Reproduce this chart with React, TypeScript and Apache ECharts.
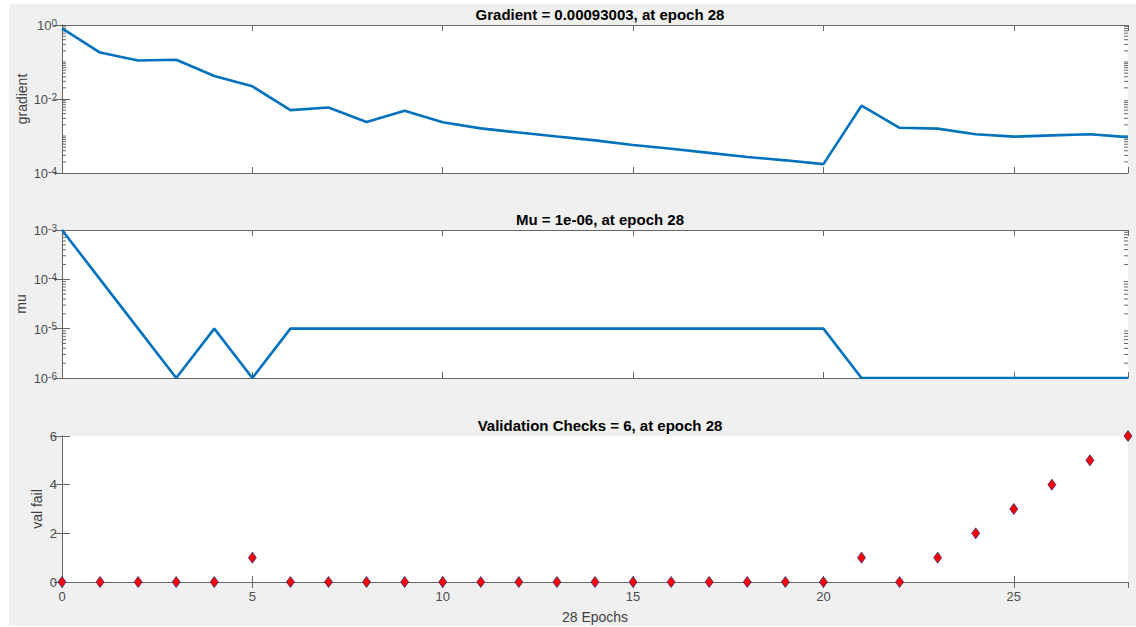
import React, { useEffect, useRef } from "react";
import * as echarts from "echarts";

// Training record, one entry per epoch
const epochs = [
  0, 1, 2, 3, 4, 5, 6, 7, 8, 9, 10, 11, 12, 13, 14, 15, 16, 17, 18, 19, 20,
  21, 22, 23, 24, 25, 26, 27, 28,
];

const gradient = [
  0.81, 0.18, 0.11, 0.115, 0.042, 0.022, 0.005, 0.0059, 0.0024, 0.0048,
  0.00234, 0.00161, 0.00124, 0.00097, 0.00076, 0.00057, 0.00045, 0.00035,
  0.00027, 0.00022, 0.000174, 0.0066, 0.00167, 0.00158, 0.00112, 0.00096,
  0.00104, 0.00112, 0.00093003,
];

const mu = [
  1e-3, 1e-4, 1e-5, 1e-6, 1e-5, 1e-6, 1e-5, 1e-5, 1e-5, 1e-5, 1e-5, 1e-5,
  1e-5, 1e-5, 1e-5, 1e-5, 1e-5, 1e-5, 1e-5, 1e-5, 1e-5, 1e-6, 1e-6, 1e-6,
  1e-6, 1e-6, 1e-6, 1e-6, 1e-6,
];

const valFail = [
  0, 0, 0, 0, 0, 1, 0, 0, 0, 0, 0, 0, 0, 0, 0, 0, 0, 0, 0, 0, 0, 1, 0, 1, 2,
  3, 4, 5, 6,
];

const titles = [
  "Gradient = 0.00093003, at epoch 28",
  "Mu = 1e-06, at epoch 28",
  "Validation Checks = 6, at epoch 28",
];
const yNames = ["gradient", "mu", "val fail"];
const xName = "28 Epochs";

// log-axis minor tick multipliers within each decade
const minorSteps = [1, 2, 3, 4, 5, 6, 7, 8, 9];

const FONT = "'Liberation Sans', Arial, Helvetica, sans-serif";
const AXIS = "#666666";
const LABEL = "#4d4d4d";
const BLUE = "#0072BD";

const GRID_LEFT = 62;
const GRID_RIGHT = 8;
const panels = [
  { top: 25, height: 148 },
  { top: 230, height: 148 },
  { top: 436, height: 146 },
];

function minorTickValues(minExp: number, maxExp: number, majorEvery: number) {
  const out: number[][] = [];
  for (let e = minExp; e < maxExp; e++) {
    for (const k of minorSteps) {
      if (k === 1 && (e - minExp) % majorEvery === 0) continue;
      out.push([0, k * Math.pow(10, e)]);
    }
  }
  return out;
}

const powLabel = (v: number) => {
  const e = Math.round(Math.log10(v));
  return `{b|10}{e|${e}}`;
};

const powRich = {
  b: { fontSize: 13, color: LABEL, fontFamily: FONT, lineHeight: 14, verticalAlign: "bottom" },
  e: {
    fontSize: 10,
    color: LABEL,
    fontFamily: FONT,
    lineHeight: 10,
    verticalAlign: "top",
    padding: [0, 0, 10, 0],
  },
};

function buildOption() {
  const xAxis: any[] = [];
  const yAxis: any[] = [];
  panels.forEach((_, i) => {
    const last = i === panels.length - 1;
    xAxis.push({
      type: "value",
      gridIndex: i,
      position: "bottom",
      min: 0,
      max: 28,
      interval: 5,
      splitLine: { show: false },
      axisLine: { show: true, lineStyle: { color: AXIS, width: 1 } },
      axisTick: { show: true, inside: true, length: 6, lineStyle: { color: AXIS } },
      axisLabel: {
        show: last,
        color: LABEL,
        fontSize: 13,
        fontFamily: FONT,
        margin: 8,
        showMaxLabel: false,
        formatter: (v: number) => (v % 5 === 0 ? String(v) : ""),
      },
      name: last ? xName : "",
      nameLocation: "middle",
      nameGap: 28,
      nameMoveOverlap: false,
      nameTextStyle: { color: "#404040", fontSize: 14, fontFamily: FONT },
    });
    xAxis.push({
      type: "value",
      gridIndex: i,
      position: "top",
      min: 0,
      max: 28,
      interval: 5,
      splitLine: { show: false },
      axisLine: { show: true, lineStyle: { color: AXIS, width: 1 } },
      axisTick: { show: true, inside: true, length: 6, lineStyle: { color: AXIS } },
      axisLabel: { show: false },
    });
  });

  const yDefs = [
    { type: "log", min: 1e-4, max: 1, interval: 2, nameGap: 33 },
    { type: "log", min: 1e-6, max: 1e-3, interval: 1, nameGap: 34 },
    { type: "value", min: 0, max: 6, interval: 2, nameGap: 18 },
  ];
  yDefs.forEach((d, i) => {
    const isLog = d.type === "log";
    yAxis.push({
      type: d.type,
      logBase: 10,
      gridIndex: i,
      position: "left",
      min: d.min,
      max: d.max,
      interval: d.interval,
      splitLine: { show: false },
      axisLine: { show: true, lineStyle: { color: AXIS, width: 1 } },
      axisTick: { show: true, inside: true, length: 8, lineStyle: { color: AXIS } },
      axisLabel: isLog
        ? { formatter: powLabel, rich: powRich, margin: 5 }
        : { color: LABEL, fontSize: 13, fontFamily: FONT, margin: 5 },
      name: yNames[i],
      nameLocation: "middle",
      nameGap: d.nameGap,
      nameMoveOverlap: false,
      nameTextStyle: { color: "#404040", fontSize: 14, fontFamily: FONT },
    });
    yAxis.push({
      type: d.type,
      logBase: 10,
      gridIndex: i,
      position: "right",
      min: d.min,
      max: d.max,
      interval: d.interval,
      splitLine: { show: false },
      axisLine: { show: true, lineStyle: { color: AXIS, width: 1 } },
      axisTick: { show: true, inside: true, length: 8, lineStyle: { color: AXIS } },
      axisLabel: { show: false },
    });
  });

  const minorRender = (params: any, api: any) => {
    const v = api.value(1);
    const y = api.coord([0, v])[1];
    const cs = params.coordSys;
    const style = { stroke: AXIS, lineWidth: 1 };
    return {
      type: "group",
      children: [
        { type: "line", shape: { x1: cs.x, y1: y, x2: cs.x + 4, y2: y }, style },
        {
          type: "line",
          shape: { x1: cs.x + cs.width, y1: y, x2: cs.x + cs.width - 4, y2: y },
          style,
        },
      ],
    };
  };

  const series: any[] = [
    {
      type: "line",
      xAxisIndex: 0,
      yAxisIndex: 0,
      data: epochs.map((e, i) => [e, gradient[i]]),
      showSymbol: false,
      lineStyle: { color: BLUE, width: 2.6 },
      z: 5,
    },
    {
      type: "line",
      xAxisIndex: 2,
      yAxisIndex: 2,
      data: epochs.map((e, i) => [e, mu[i]]),
      showSymbol: false,
      lineStyle: { color: BLUE, width: 2.6 },
      z: 5,
    },
    {
      type: "scatter",
      xAxisIndex: 4,
      yAxisIndex: 4,
      data: epochs.map((e, i) => [e, valFail[i]]),
      symbol: "diamond",
      symbolSize: [8, 11],
      clip: false,
      itemStyle: { color: "#ff0000", borderColor: "#2e2e80", borderWidth: 0.8, opacity: 1 },
      z: 5,
    },
    {
      type: "custom",
      xAxisIndex: 0,
      yAxisIndex: 0,
      data: minorTickValues(-4, 0, 2),
      renderItem: minorRender,
      silent: true,
      clip: false,
    },
    {
      type: "custom",
      xAxisIndex: 2,
      yAxisIndex: 2,
      data: minorTickValues(-6, -3, 1),
      renderItem: minorRender,
      silent: true,
      clip: false,
    },
  ];

  return {
    animation: false,
    backgroundColor: "#ffffff",
    textStyle: { fontFamily: FONT },
    graphic: [
      {
        type: "rect",
        z: -10,
        shape: { x: 9, y: 4, width: 1127, height: 622 },
        style: { fill: "#f0f0f0" },
      },
    ],
    title: titles.map((t, i) => ({
      text: t,
      left: GRID_LEFT + (1136 - GRID_LEFT - GRID_RIGHT) / 2,
      textAlign: "center",
      top: panels[i].top - 23,
      textStyle: { fontSize: 15, fontWeight: "bold", color: "#000000", fontFamily: FONT },
    })),
    grid: panels.map((p) => ({
      left: GRID_LEFT,
      right: GRID_RIGHT,
      top: p.top,
      height: p.height,
      show: true,
      backgroundColor: "#ffffff",
      borderWidth: 0,
    })),
    xAxis,
    yAxis,
    series,
  };
}

export default function App() {
  const ref = useRef<HTMLDivElement>(null);
  useEffect(() => {
    if (!ref.current) return;
    const chart = echarts.init(ref.current, undefined, { renderer: "svg" });
    chart.setOption(buildOption() as any);
    return () => chart.dispose();
  }, []);
  return (
    <div
      ref={ref}
      style={{ position: "fixed", left: 0, top: 0, width: 1136, height: 627 }}
    />
  );
}
